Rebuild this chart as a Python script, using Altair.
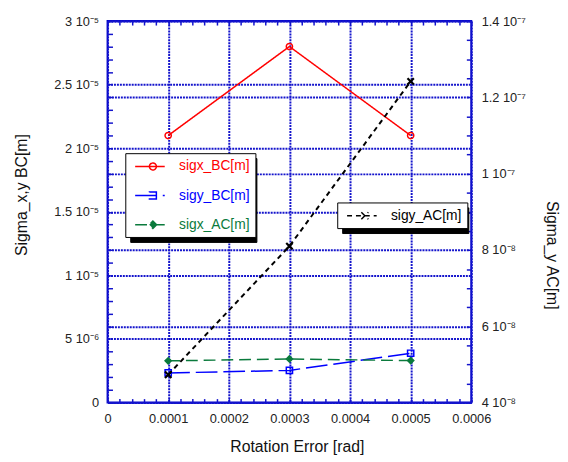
import json
import altair as alt
import pandas as pd

# ---------------- data ----------------
x_vals = [0.0001, 0.0003, 0.0005]
sigx_BC = [2.10e-5, 2.80e-5, 2.10e-5]
sigy_BC = [2.33e-6, 2.53e-6, 3.88e-6]
sigx_AC = [3.28e-6, 3.43e-6, 3.30e-6]
sigy_AC = [4.73e-8, 8.10e-8, 1.242e-7]

left_names = ["sigx_BC[m]", "sigy_BC[m]", "sigx_AC[m]"]
right_names = ["sigy_AC[m]"]
left_colors = ["#ff0000", "#0000ff", "#0a7a3c"]
right_colors = ["#000000"]

x_ticks = [0, 0.0001, 0.0002, 0.0003, 0.0004, 0.0005, 0.0006]
x_labels = ["0", "0.0001", "0.0002", "0.0003", "0.0004", "0.0005", "0.0006"]
left_ticks = [0, 5e-6, 1e-5, 1.5e-5, 2e-5, 2.5e-5, 3e-5]
left_labels = ["0", "5 10\u207b\u2076", "1 10\u207b\u2075", "1.5 10\u207b\u2075",
               "2 10\u207b\u2075", "2.5 10\u207b\u2075", "3 10\u207b\u2075"]
right_ticks = [4e-8, 6e-8, 8e-8, 1e-7, 1.2e-7, 1.4e-7]
right_labels = ["4 10\u207b\u2078", "6 10\u207b\u2078", "8 10\u207b\u2078",
                "1 10\u207b\u2077", "1.2 10\u207b\u2077", "1.4 10\u207b\u2077"]
x_minor = [round(i * 2e-5, 7) for i in range(31)]
left_minor = [round(i * 1e-6, 8) for i in range(31)]
right_minor = [round(4e-8 + i * 5e-9, 11) for i in range(21)]

left_df = pd.DataFrame({
    "x": x_vals * 3,
    "value": sigx_BC + sigy_BC + sigx_AC,
    "series": [n for n in left_names for _ in x_vals],
})
right_df = pd.DataFrame({
    "x": x_vals,
    "value": sigy_AC,
    "series": [n for n in right_names for _ in x_vals],
})

# ---------------- styles ----------------
BLUE = "#1414cc"
FONT = "Liberation Sans"
left_dashes = [[1, 0], [22, 6], [12, 6]]
right_dashes = [[5, 4]]
left_shapes = ["circle", "square", "diamond"]
left_fills = ["transparent", "transparent", left_colors[2]]
cross = "M-1,-1L1,1M-1,1L1,-1"

leg_circle = "M-2,0H2M-0.07,0A0.47,0.47 0 1,0 0.87,0A0.47,0.47 0 1,0 -0.07,0"
leg_square = "M-2,0H2M-0.07,-0.47H0.87V0.47H-0.07Z"
leg_diamond = "M-2,0H2M0.4,-0.5L0.9,0L0.4,0.5L-0.1,0Z"
leg_cross = "M-2,0H2M-0.07,-0.47L0.87,0.47M-0.07,0.47L0.87,-0.47"
left_leg_paths = [leg_circle, leg_square, leg_diamond]
right_leg_paths = [leg_cross]

LABEL_OFFSET = 21
LABEL_W = 71.6   # width of the legend labels at 14px
SPACE_W = 3.9    # width of a space at 14px

xs = alt.Scale(domain=[0, 0.0006], nice=False, zero=False)
yl = alt.Scale(domain=[0, 3e-5], nice=False, zero=False)
yr = alt.Scale(domain=[4e-8, 1.4e-7], nice=False, zero=False)


def lab_expr(labels, start, step):
    return f"{json.dumps(labels, ensure_ascii=False)}[round((datum.value - ({start})) / ({step}))]"


grid_kw = dict(grid=True, gridColor=BLUE, gridDash=[2, 1], gridWidth=2, gridOpacity=1)
lab_kw = dict(labelFont=FONT, labelFontSize=13, labelColor="#222222", ticks=False,
              domain=False, labelOverlap=False, labelFlush=False)
ttl_kw = dict(titleFont=FONT, titleFontSize=16, titleFontWeight="normal",
              titleColor="#111111", titleBaseline="alphabetic")
minor_kw = dict(labels=False, domain=False, grid=False, tickColor=BLUE, tickWidth=1.5,
                title=None)

ax_bottom = alt.Axis(orient="bottom", values=x_ticks, labelExpr=lab_expr(x_labels, 0, 0.0001),
                     labelPadding=10, title="Rotation Error [rad]", titleX=192, titleY=50,
                     **grid_kw, **lab_kw, **ttl_kw)
ax_left = alt.Axis(orient="left", values=left_ticks, labelExpr=lab_expr(left_labels, 0, 5e-6),
                   labelPadding=9, title="Sigma_x,y BC[m]", titleAngle=270, titleX=-82,
                   titleY=176, **grid_kw, **lab_kw, **ttl_kw)
ax_right = alt.Axis(orient="right", values=right_ticks,
                    labelExpr=lab_expr(right_labels, 4e-8, 2e-8),
                    labelPadding=10, title="Sigma_y AC[m]", titleAngle=90, titleX=76,
                    titleY=237, **grid_kw, **lab_kw, **ttl_kw)
ax_left_minor = alt.Axis(orient="left", values=left_minor, offset=-5, tickSize=5, **minor_kw)
ax_right_minor = alt.Axis(orient="right", values=right_minor, offset=-5, tickSize=5, **minor_kw)
ax_top_minor = alt.Axis(orient="top", values=x_minor, offset=-4, tickSize=4, **minor_kw)
ax_bottom_minor = alt.Axis(orient="bottom", values=x_minor, offset=-4, tickSize=4, **minor_kw)


def sc(domain, rng):
    return alt.Scale(domain=domain, range=rng)


# ---------------- data layers ----------------
left_lines = alt.Chart(left_df).mark_line(strokeWidth=1.5).encode(
    x=alt.X("x:Q", scale=xs, axis=ax_bottom),
    y=alt.Y("value:Q", scale=yl, axis=ax_left),
    color=alt.Color("series:N", scale=sc(left_names, left_colors), legend=None),
    strokeDash=alt.StrokeDash("series:N", scale=sc(left_names, left_dashes), legend=None),
)
left_points = alt.Chart(left_df).mark_point(size=40, strokeWidth=1.5, opacity=1).encode(
    x=alt.X("x:Q", scale=xs, axis=None),
    y=alt.Y("value:Q", scale=yl, axis=ax_left_minor),
    color=alt.Color("series:N", scale=sc(left_names, left_colors), legend=None),
    shape=alt.Shape("series:N", scale=sc(left_names, left_shapes), legend=None),
    fill=alt.Fill("series:N", scale=sc(left_names, left_fills), legend=None),
)
right_lines = alt.Chart(right_df).mark_line(strokeWidth=2).encode(
    x=alt.X("x:Q", scale=xs, axis=ax_top_minor),
    y=alt.Y("value:Q", scale=yr, axis=ax_right),
    color=alt.Color("series:N", scale=sc(right_names, right_colors), legend=None),
    strokeDash=alt.StrokeDash("series:N", scale=sc(right_names, right_dashes), legend=None),
)
right_points = alt.Chart(right_df).mark_point(size=42, strokeWidth=2.2, opacity=1).encode(
    x=alt.X("x:Q", scale=xs, axis=ax_bottom_minor),
    y=alt.Y("value:Q", scale=yr, axis=ax_right_minor),
    color=alt.Color("series:N", scale=sc(right_names, right_colors), legend=None),
    shape=alt.Shape("series:N", scale=sc(right_names, [cross]), legend=None),
)


# ---------------- legends ----------------
def legend_layer(df, names, colors, paths, dashes, fills, lx, ly, shadow):
    extra = {}
    if shadow:
        colors = ["#000000"] * len(names)
        fills = ["#000000"] * len(names)
        label_color = "#000000"
        label_offset = LABEL_OFFSET + LABEL_W - SPACE_W
        extra["labelExpr"] = "' '"
    else:
        label_color = {"expr": " : ".join(
            f"datum.label == '{n}' ? '{c}'" for n, c in zip(names[:-1], colors[:-1])
        ) + (" : " if len(names) > 1 else "") + f"'{colors[-1]}'"}
        label_offset = LABEL_OFFSET
    leg = alt.Legend(
        title=None, orient="none", legendX=lx, legendY=ly, padding=5,
        fillColor="#000000" if shadow else "#ffffff", strokeColor="#000000",
        symbolSize=225, symbolStrokeWidth=1.5, symbolOffset=11.5,
        labelOffset=label_offset, labelFont=FONT, labelFontSize=14, labelColor=label_color,
        rowPadding=13.5, **extra,
    )
    return alt.Chart(df).transform_filter("false").mark_point(strokeWidth=1.5, opacity=1).encode(
        color=alt.Color("series:N", scale=sc(names, colors), legend=leg),
        shape=alt.Shape("series:N", scale=sc(names, paths), legend=leg),
        strokeDash=alt.StrokeDash("series:N", scale=sc(names, dashes), legend=leg),
        fill=alt.Fill("series:N", scale=sc(names, fills), legend=leg),
    )


leg1_shadow = legend_layer(left_df, left_names, left_colors, left_leg_paths, left_dashes,
                           left_fills, 23, 139, True)
leg1 = legend_layer(left_df, left_names, left_colors, left_leg_paths, left_dashes,
                    left_fills, 18, 134, False)
leg2_shadow = legend_layer(right_df, right_names, right_colors, right_leg_paths, right_dashes,
                           ["transparent"], 238, 189, True)
leg2 = legend_layer(right_df, right_names, right_colors, right_leg_paths, right_dashes,
                    ["transparent"], 233, 184, False)

chart = alt.layer(
    left_lines, left_points, right_lines, right_points,
    leg1_shadow, leg1, leg2_shadow, leg2,
).resolve_scale(
    y="independent", color="independent", shape="independent",
    strokeDash="independent", fill="independent",
).resolve_axis(
    x="independent", y="independent",
).resolve_legend(
    color="independent", shape="independent", strokeDash="independent", fill="independent",
).properties(
    width=369, height=387,
    padding={"left": 101, "top": 10, "right": 90, "bottom": 57},
    autosize=alt.AutoSizeParams(type="none"),
    background="#ffffff",
).configure_view(
    stroke="#0000cc", strokeWidth=2,
)

chart.save("out.html", embed_options={"renderer": "svg", "actions": False})
